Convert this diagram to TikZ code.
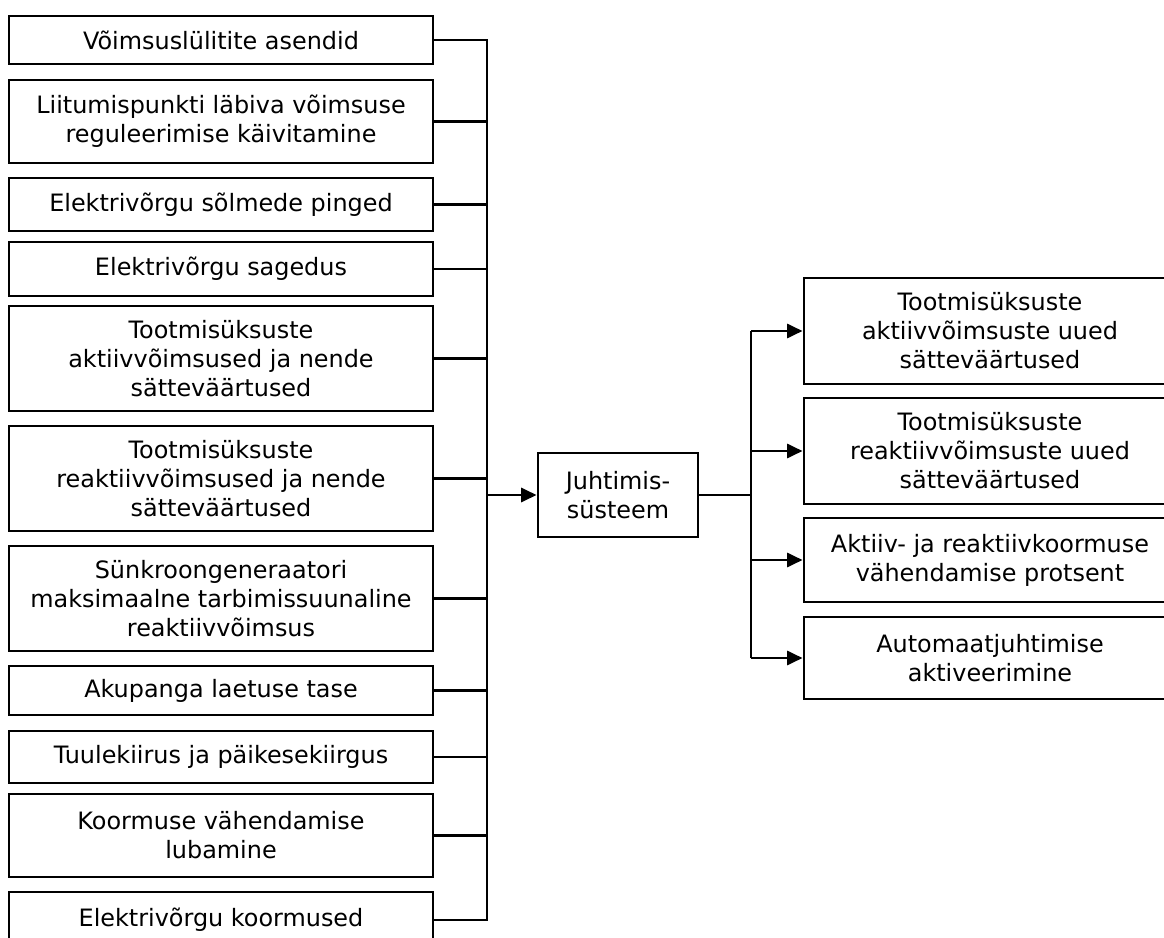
\documentclass[tikz,border=0pt]{standalone}
\usepackage{fontspec}
\setmainfont{DejaVu Sans}
\usetikzlibrary{arrows.meta}

\begin{document}
\begin{tikzpicture}[x=0.025cm, y=-0.025cm, line width=2pt,
		box/.style={draw, rectangle, align=center, inner sep=0pt, font=\fontsize{17}{20.6}\selectfont},
		inbox/.style={box, minimum width=10.6cm},
		outbox/.style={box, minimum width=9.3cm},
		arr/.style={-{Triangle[length=11pt, width=10pt]}}]
			\useasboundingbox (0, 0) rectangle (1164, 938);
			\coordinate (BUSL) at (487, 0);
			\coordinate (BUSR) at (751, 0);
			\node[inbox, minimum height=1.2cm] (I1)at(221, 40) {Võimsuslülitite asendid};
			\node[inbox, minimum height=2.075cm] (I2)at(221, 121.5) {Liitumispunkti läbiva võimsuse\\reguleerimise käivitamine};
			\node[inbox, minimum height=1.325cm] (I3)at(221, 204.5) {Elektrivõrgu sõlmede pinged};
			\node[inbox, minimum height=1.35cm] (I4)at(221, 269) {Elektrivõrgu sagedus};
			\node[inbox, minimum height=2.625cm] (I5)at(221, 358.5) {Tootmisüksuste\\aktiivvõimsused ja nende\\sätteväärtused};
			\node[inbox, minimum height=2.625cm] (I6)at(221, 478.5) {Tootmisüksuste\\reaktiivvõimsused ja nende\\sätteväärtused};
			\node[inbox, minimum height=2.625cm] (I7)at(221, 598.5) {Sünkroongeneraatori\\maksimaalne tarbimissuunaline\\reaktiivvõimsus};
			\node[inbox, minimum height=1.225cm] (I8)at(221, 690.5) {Akupanga laetuse tase};
			\node[inbox, minimum height=1.3cm] (I9)at(221, 757) {Tuulekiirus ja päikesekiirgus};
			\node[inbox, minimum height=2.075cm] (I10)at(221, 835.5) {Koormuse vähendamise\\lubamine};
			\node[inbox, minimum height=1.4cm] (I11)at(221, 920) {Elektrivõrgu koormused};
			\node[box, minimum width=4cm, minimum height=2.1cm] (J)at(618, 495) {Juhtimis-\\süsteem};
			\node[outbox, minimum height=2.65cm] (O1)at(990, 331) {Tootmisüksuste\\aktiivvõimsuste uued\\sätteväärtused};
			\node[outbox, minimum height=2.65cm] (O2)at(990, 451) {Tootmisüksuste\\reaktiivvõimsuste uued\\sätteväärtused};
			\node[outbox, minimum height=2.1cm] (O3)at(990, 560) {Aktiiv- ja reaktiivkoormuse\\vähendamise protsent};
			\node[outbox, minimum height=2.05cm] (O4)at(990, 658) {Automaatjuhtimise\\aktiveerimine};
			\draw (I1.east) -- (I1.east -| BUSL) -- (I11.east -| BUSL) -- (I11.east);
			\draw (I2.east) -- (I2.east -| BUSL);
			\draw (I3.east) -- (I3.east -| BUSL);
			\draw (I4.east) -- (I4.east -| BUSL);
			\draw (I5.east) -- (I5.east -| BUSL);
			\draw (I6.east) -- (I6.east -| BUSL);
			\draw (I7.east) -- (I7.east -| BUSL);
			\draw (I8.east) -- (I8.east -| BUSL);
			\draw (I9.east) -- (I9.east -| BUSL);
			\draw (I10.east) -- (I10.east -| BUSL);
			\draw[arr] (J.west -| BUSL) -- (J.west);
			\draw (J.east) -- (J.east -| BUSR);
			\draw (O1.west -| BUSR) -- (O4.west -| BUSR);
			\draw[arr] (O1.west -| BUSR) -- (O1.west);
			\draw[arr] (O2.west -| BUSR) -- (O2.west);
			\draw[arr] (O3.west -| BUSR) -- (O3.west);
			\draw[arr] (O4.west -| BUSR) -- (O4.west);
		\end{tikzpicture}
\end{document}
